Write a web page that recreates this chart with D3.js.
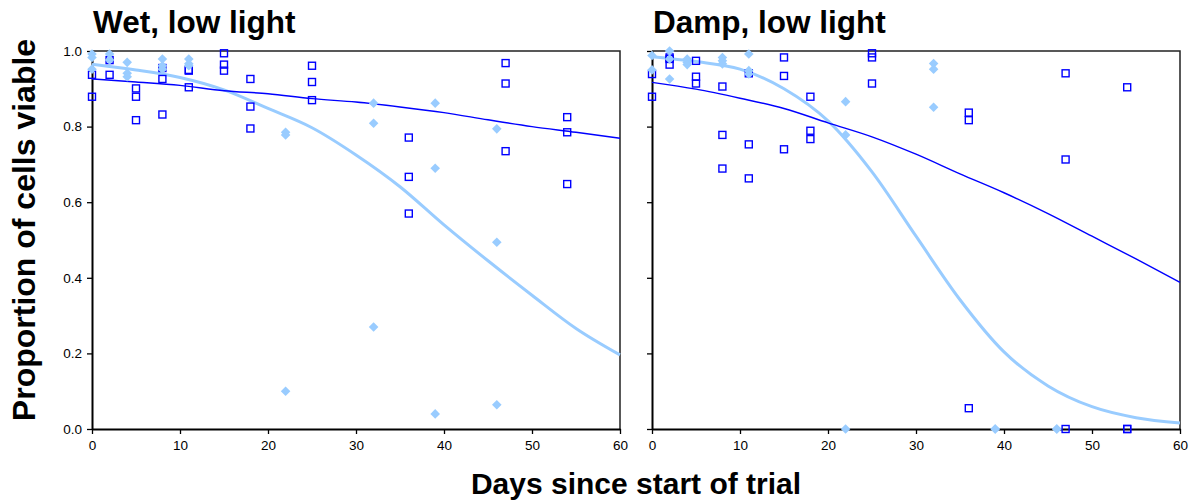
<!DOCTYPE html>
<html><head><meta charset="utf-8">
<script src="https://cdn.jsdelivr.net/npm/d3@7"></script>
<style>
html,body{margin:0;padding:0;background:#fff;}
text{font-family:Arial,"Liberation Sans",sans-serif;}
</style></head>
<body><svg id="chart" width="1194" height="503"></svg>
<script>
// ---- data ----
const panelTitles = ["Wet, low light", "Damp, low light"];
const xTicks = [0, 10, 20, 30, 40, 50, 60];
const yTicks = [0, 0.2, 0.4, 0.6, 0.8, 1.0];
const curveDays = [0, 5, 10, 15, 20, 25, 30, 35, 40, 45, 50, 55, 60];

// Wet, low light
const wetSquares = [
  [0,0.937],[0,0.879],
  [2,0.976],[2,0.937],
  [5,0.901],[5,0.879],[5,0.817],
  [8,0.955],[8,0.926],[8,0.832],
  [11,0.950],[11,0.948],[11,0.904],
  [15,0.994],[15,0.964],[15,0.948],
  [18,0.926],[18,0.853],[18,0.795],
  [25,0.961],[25,0.918],[25,0.870],
  [36,0.771],[36,0.667],[36,0.570],
  [47,0.968],[47,0.914],[47,0.735],
  [54,0.825],[54,0.785],[54,0.648]
];
const wetDiamonds = [
  [0,0.992],[0,0.983],[0,0.952],
  [2,0.992],[2,0.976],
  [4,0.970],[4,0.941],[4,0.932],
  [8,0.979],[8,0.961],[8,0.952],
  [11,0.979],[11,0.966],[11,0.961],
  [22,0.785],[22,0.778],[22,0.100],
  [32,0.862],[32,0.809],[32,0.270],
  [39,0.862],[39,0.690],[39,0.040],
  [46,0.794],[46,0.494],[46,0.064]
];
const wetLightCurve = [0.965,0.950,0.930,0.897,0.848,0.797,0.725,0.641,0.540,0.445,0.354,0.266,0.196];
const wetDarkCurve  = [0.926,0.918,0.909,0.895,0.887,0.874,0.865,0.852,0.837,0.818,0.800,0.785,0.769];

// Damp, low light
const dampSquares = [
  [0,0.939],[0,0.879],
  [2,0.983],[2,0.979],[2,0.964],
  [5,0.974],[5,0.932],[5,0.914],
  [8,0.906],[8,0.778],[8,0.689],
  [11,0.941],[11,0.753],[11,0.663],
  [15,0.983],[15,0.934],[15,0.740],
  [18,0.879],[18,0.789],[18,0.767],
  [25,0.994],[25,0.983],[25,0.914],
  [36,0.837],[36,0.817],[36,0.055],
  [47,0.941],[47,0.713],[47,0.0],
  [54,0.904],[54,0.0],[54,0.0]
];
const dampDiamonds = [
  [0,0.988],[0,0.950],
  [2,1.0],[2,0.979],[2,0.926],
  [4,0.979],[4,0.970],[4,0.964],
  [8,0.983],[8,0.974],[8,0.966],
  [11,0.992],[11,0.948],[11,0.939],
  [22,0.866],[22,0.778],[22,0.0],
  [32,0.967],[32,0.952],[32,0.851],
  [39,0.0],[39,0.0],
  [46,0.0],[46,0.0]
];
const dampLightCurve = [0.985,0.972,0.952,0.900,0.815,0.680,0.510,0.342,0.204,0.114,0.059,0.030,0.016];
const dampDarkCurve  = [0.917,0.899,0.875,0.848,0.810,0.773,0.727,0.675,0.625,0.570,0.510,0.450,0.388];

const yAxisTitle = "Proportion of cells viable";
const xAxisTitle = "Days since start of trial";

// ---- drawing ----
const svg = d3.select("#chart");
const DARK = "#0000ff", LIGHT = "#99ccff";
const panels = [
  {title: panelTitles[0], x0: 92, squares: wetSquares, diamonds: wetDiamonds, light: wetLightCurve, dark: wetDarkCurve, labels: true},
  {title: panelTitles[1], x0: 652, squares: dampSquares, diamonds: dampDiamonds, light: dampLightCurve, dark: dampDarkCurve, labels: false}
];
const PW = 528, YTOP = 51, YBOT = 429;

panels.forEach(p => {
  const x = d3.scaleLinear().domain([0, 60]).range([p.x0, p.x0 + PW]);
  const y = d3.scaleLinear().domain([0, 1]).range([YBOT, YTOP]);
  const g = svg.append("g");

  // frame (top and right)
  g.append("path")
    .attr("d", `M${x(0)},${y(1)}H${x(60)}V${y(0)}`)
    .attr("fill", "none").attr("stroke", "#222").attr("stroke-width", 1.5);

  // axes
  const xa = g.append("g").attr("transform", `translate(0,${YBOT})`)
    .call(d3.axisBottom(x).tickValues(xTicks).tickFormat(d3.format("d")).tickSize(5).tickSizeOuter(0).tickPadding(6));
  const ya = g.append("g").attr("transform", `translate(${p.x0},0)`)
    .call(d3.axisLeft(y).tickValues(yTicks).tickFormat(p.labels ? d3.format(".1f") : () => "").tickSize(5).tickSizeOuter(0).tickPadding(5));
  [xa, ya].forEach(a => {
    a.select(".domain").attr("stroke", "#000").attr("stroke-width", 2);
    a.selectAll(".tick line").attr("stroke", "#000").attr("stroke-width", 1.3);
    a.selectAll(".tick text").attr("fill", "#000").style("font-size", "13.5px").style("font-family", "Arial, 'Liberation Sans', sans-serif");
  });

  // curves
  const line = d3.line().x((d, i) => x(curveDays[i])).y(d => y(d)).curve(d3.curveMonotoneX);
  g.append("path").datum(p.light).attr("d", line)
    .attr("fill", "none").attr("stroke", LIGHT).attr("stroke-width", 3);
  g.append("path").datum(p.dark).attr("d", line)
    .attr("fill", "none").attr("stroke", DARK).attr("stroke-width", 1.4);

  // squares
  g.selectAll("rect.sq").data(p.squares).join("rect").attr("class", "sq")
    .attr("x", d => x(d[0]) - 3.5).attr("y", d => y(d[1]) - 3.5)
    .attr("width", 7).attr("height", 7)
    .attr("fill", "none").attr("stroke", DARK).attr("stroke-width", 1.4);

  // diamonds
  const diamond = d3.symbol().type(d3.symbolSquare).size(46);
  g.selectAll("path.dm").data(p.diamonds).join("path").attr("class", "dm")
    .attr("d", diamond)
    .attr("transform", d => `translate(${x(d[0])},${y(d[1])}) rotate(45)`)
    .attr("fill", LIGHT);

  // panel title
  svg.append("text").attr("x", p.x0 + 1).attr("y", 33)
    .attr("font-size", 31.5).attr("font-weight", "bold").attr("fill", "#000")
    .text(p.title);
});

// axis titles
svg.append("text").attr("transform", "translate(35,230) rotate(-90)")
  .attr("text-anchor", "middle").attr("font-size", 32).attr("font-weight", "bold").attr("fill", "#000")
  .text(yAxisTitle);
svg.append("text").attr("x", 636).attr("y", 494)
  .attr("text-anchor", "middle").attr("font-size", 30).attr("font-weight", "bold").attr("fill", "#000")
  .text(xAxisTitle);
</script></body></html>
